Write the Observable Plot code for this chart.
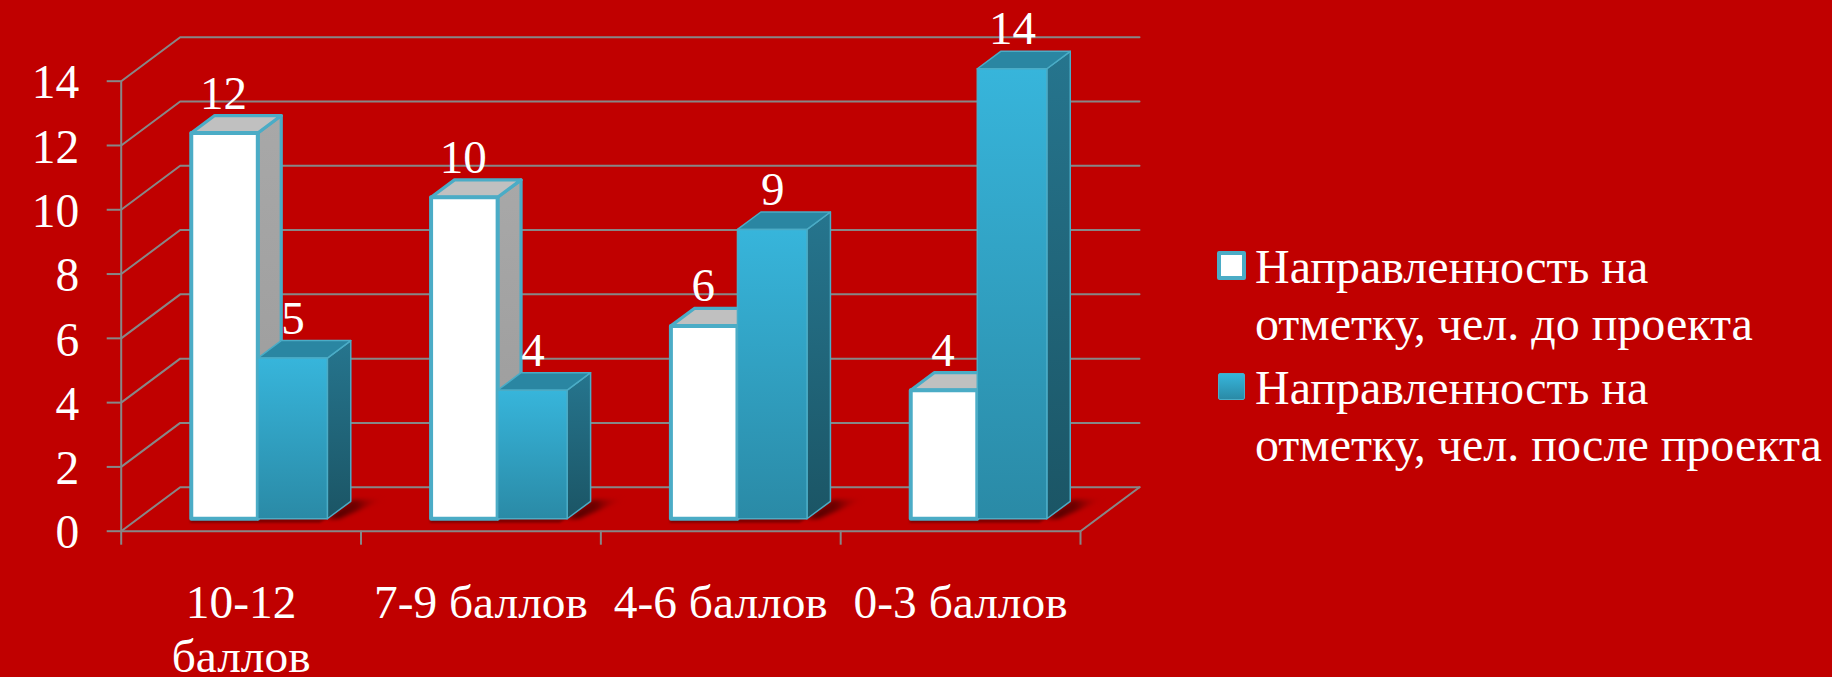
<!DOCTYPE html>
<html lang="ru">
<head>
<meta charset="utf-8">
<script src="https://cdn.jsdelivr.net/npm/d3@7"></script>
<script src="https://cdn.jsdelivr.net/npm/@observablehq/plot@0.6"></script>
<style>
  html, body { margin: 0; padding: 0; background: #c00000; width: 1832px; height: 677px; overflow: hidden; }
  #chart { position: relative; width: 1832px; height: 677px; }
  #chart svg { position: absolute; left: 0; top: 0; overflow: visible; }
  .lg { position: absolute; left: 1255px; width: 577px; color: #fff; font: 48px/56.5px "Liberation Serif", serif; white-space: nowrap; }
  .sw { position: absolute; box-sizing: border-box; border-radius: 2px; }
</style>
</head>
<body>
<div id="chart"></div>
<script>
const categories = ["10-12\nбаллов", "7-9 баллов", "4-6 баллов", "0-3 баллов"];
const beforeValues = [12, 10, 6, 4];
const afterValues = [5, 4, 9, 14];
const valueTicks = [0, 2, 4, 6, 8, 10, 12, 14];
const seriesNames = ["Направленность на\nотметку, чел. до проекта", "Направленность на\nотметку, чел. после проекта"];

const GRID = "#878787", EDGE = "#4bacc6", TEXT = "#ffffff";

// Oblique projection, in data units: a point at depth d moves right and up.
const xDepth = 0.246, yDepth = 1.369;
const wallDepth = 1, barNear = 0.283, barFar = 0.68;
const px = (x, d) => x + d * xDepth;
const py = (y, d) => y + d * yDepth;
const pt = (x, y, d, key) => ({ x: px(x, d), y: py(y, d), key });

// Wall and floor lines
const gridRows = valueTicks.flatMap((v) => [
  pt(0, v, 0, v), pt(0, v, wallDepth, v), pt(categories.length, v, wallDepth, v)
]);
const floorEdge = [pt(categories.length, 0, 0, "f"), pt(categories.length, 0, wallDepth, "f")];

function faces(values, x0, x1, name) {
  const front = [], side = [], top = [], shadow = [], under = [];
  values.forEach((v, i) => {
    const a = i + x0, b = i + x1, k = name + i;
    front.push(pt(a, 0, barNear, k), pt(b, 0, barNear, k), pt(b, v, barNear, k), pt(a, v, barNear, k), pt(a, 0, barNear, k));
    side.push(pt(b, 0, barNear, k), pt(b, 0, barFar, k), pt(b, v, barFar, k), pt(b, v, barNear, k), pt(b, 0, barNear, k));
    top.push(pt(a, v, barNear, k), pt(b, v, barNear, k), pt(b, v, barFar, k), pt(a, v, barFar, k), pt(a, v, barNear, k));
    shadow.push(pt(b, 0, barNear, k), pt(b, 0, barFar + 0.03, k), pt(b + 0.13, 0, barFar + 0.06, k), pt(b + 0.05, 0, barNear, k), pt(b, 0, barNear, k));
    under.push(pt(a - 0.28, 0, barNear, k), pt(b, 0, barNear, k), pt(b - 0.01, 0, barNear - 0.09, k), pt(a - 0.26, 0, barNear - 0.09, k), pt(a - 0.28, 0, barNear, k));
  });
  return { front, side, top, shadow, under };
}
const bw = 0.29, gap = (1 - 2 * bw) / 2;
const white = faces(beforeValues, gap + 0.0125, gap + bw, "a");
const blue = faces(afterValues, gap + bw, gap + 2 * bw, "b");

const defs = () => {
  const d = d3.create("svg:defs");
  const grad = (id, stops, horizontal) => {
    const g = d.append("linearGradient").attr("id", id).attr("x1", 0).attr("y1", 0)
      .attr("x2", horizontal ? 1 : 0).attr("y2", horizontal ? 0 : 1);
    stops.forEach(([o, c, a]) => g.append("stop").attr("offset", o).attr("stop-color", c).attr("stop-opacity", a ?? 1));
  };
  grad("blueFront", [[0, "#37b5db"], [1, "#2a8aa6"]]);
  grad("blueSide", [[0, "#26758e"], [1, "#1b5565"]]);
  grad("greySide", [[0, "#a8a8a8"], [1, "#9a9a9a"]]);
  grad("shade", [[0, "#4a0000"], [0.5, "#700000"], [1, "#c00000", 0]], true);
  return d.node();
};

const face = (rows, fill, stroke, strokeWidth, extra = {}) =>
  Plot.line(rows, { x: "x", y: "y", z: "key", fill, stroke, strokeWidth, strokeLinejoin: "round", curve: "linear", ...extra });

const labelRows = [
  ...beforeValues.map((v, i) => ({ x: px(i + gap + bw / 2, barNear), y: py(v, barFar), t: String(v) })),
  ...afterValues.map((v, i) => ({ x: px(i + gap + 1.5 * bw, barNear), y: py(v, barFar), t: String(v) }))
];

const plot = Plot.plot({
  width: 1832,
  height: 677,
  marginTop: 80.7, marginBottom: 146.3, marginLeft: 120.7, marginRight: 752,
  style: { background: "transparent", fontFamily: "'Liberation Serif', serif", fontSize: "47px", color: TEXT, overflow: "visible" },
  x: { type: "linear", domain: [0, categories.length], axis: null },
  y: { type: "linear", domain: [0, 14], axis: null },
  marks: [
    defs,
    Plot.line(gridRows, { x: "x", y: "y", z: "key", stroke: GRID, strokeWidth: 2 }),
    Plot.line(floorEdge, { x: "x", y: "y", z: "key", stroke: GRID, strokeWidth: 2 }),
    Plot.ruleX([0], { y1: 0, y2: 14, stroke: GRID, strokeWidth: 2 }),
    Plot.ruleY([0], { x1: 0, x2: categories.length, stroke: GRID, strokeWidth: 2 }),
    Plot.axisY({ ticks: valueTicks, tickSize: 14, stroke: GRID, strokeWidth: 2, label: null, tickFormat: () => "" }),
    Plot.text(valueTicks, { x: () => 0, y: (d) => d, text: (d) => String(d), fill: TEXT, fontSize: 47.5, textAnchor: "end", dx: -42, dy: 2 }),
    Plot.axisX({ ticks: d3.range(categories.length + 1), tickSize: 14, stroke: GRID, strokeWidth: 2, label: null, tickFormat: () => "" }),
    face(blue.shadow, "url(#shade)", "none", 0, { imageFilter: "blur(2px)" }),
    face(blue.under, "#7d0000", "none", 0, { imageFilter: "blur(1px)" }),
    face(white.side, "url(#greySide)", EDGE, 3.2),
    face(white.top, "#c0c0c0", EDGE, 3.2),
    face(white.front, "#ffffff", EDGE, 4),
    face(blue.side, "url(#blueSide)", EDGE, 1.5),
    face(blue.top, "#2a86a2", EDGE, 1.5),
    face(blue.front, "url(#blueFront)", EDGE, 1.5),
    Plot.text(labelRows, { x: "x", y: "y", text: "t", fill: TEXT, fontSize: 47, lineAnchor: "bottom", textAnchor: "middle", dx: 0.5, dy: -7 }),
    Plot.text(categories, { x: (d, i) => i + 0.5, y: () => 0, text: (d) => d, fill: TEXT, fontSize: 47.4, lineHeight: 1.15, lineAnchor: "top", textAnchor: "middle", dy: 48 })
  ]
});

const root = document.getElementById("chart");
root.appendChild(plot);

// Legend, beside the plot
const legendTops = [239, 360];
const swatches = [
  { left: 1217, top: 251, w: 29, h: 29, style: "background:#fff;border:4px solid #4bacc6" },
  { left: 1218, top: 373, w: 27, h: 27, style: "background:linear-gradient(#37b5db,#2a8aa6);border:1.5px solid #4bacc6" }
];
seriesNames.forEach((name, i) => {
  const t = document.createElement("div");
  t.className = "lg";
  t.style.top = legendTops[i] + "px";
  t.innerHTML = name.replace("\n", "<br>");
  root.appendChild(t);
  const s = document.createElement("div");
  s.className = "sw";
  s.style.cssText = `left:${swatches[i].left}px;top:${swatches[i].top}px;width:${swatches[i].w}px;height:${swatches[i].h}px;${swatches[i].style}`;
  root.appendChild(s);
});
</script>
</body>
</html>
